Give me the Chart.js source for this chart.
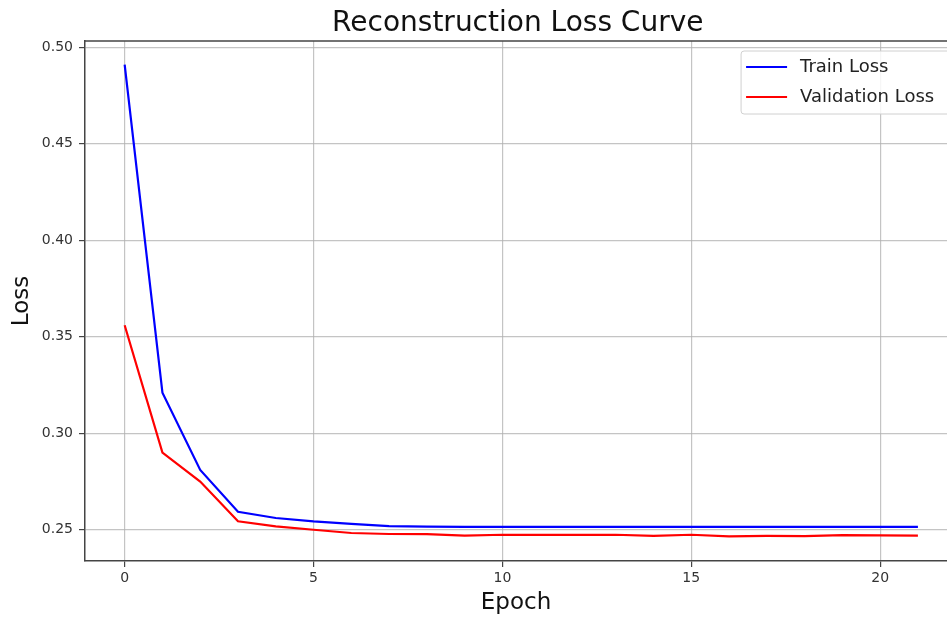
<!DOCTYPE html>
<html>
<head>
<meta charset="utf-8">
<script src="https://cdn.jsdelivr.net/npm/chart.js@4.4.1/dist/chart.umd.min.js"></script>
<style>
  html, body { margin: 0; padding: 0; background: #fff; overflow: hidden; }
  #wrap { width: 947px; height: 619px; }
</style>
</head>
<body>
<div id="wrap"><canvas id="lossChart" width="947" height="619"></canvas></div>
<script>
// Values
const epochs = [0, 1, 2, 3, 4, 5, 6, 7, 8, 9, 10, 11, 12, 13, 14, 15, 16, 17, 18, 19, 20, 21];
const trainLoss = [0.491, 0.321, 0.281, 0.2593, 0.2561, 0.2543, 0.2530, 0.2519, 0.2516, 0.2515, 0.2515,
  0.2515, 0.2515, 0.2515, 0.2515, 0.2515, 0.2515, 0.2515, 0.2515, 0.2515, 0.2515, 0.2515];
const valLoss = [0.356, 0.290, 0.275, 0.2544, 0.2517, 0.2500, 0.2483, 0.2478, 0.2477, 0.2470, 0.2474,
  0.2473, 0.2473, 0.2474, 0.2468, 0.2474, 0.2466, 0.2468, 0.2467, 0.2472, 0.2471, 0.2470];
const xTicks = [0, 5, 10, 15, 20];
const yTicks = [0.25, 0.30, 0.35, 0.40, 0.45, 0.50];

const FONT = "'DejaVu Sans', sans-serif";
const SPINE = '#444';
const GRID = 'rgba(176,176,176,0.75)';

function toPoints(ys) {
  return epochs.map((e, i) => ({ x: e, y: ys[i] }));
}

// matplotlib-like extras: top spine, legend box inside the axes, centred title
const mplExtras = {
  id: 'mplExtras',
  afterLayout(chart) {
    // centre the title over the (partly cut) axes like matplotlib does
    const xs = chart.scales.x;
    if (chart.titleBlock) {
      chart.titleBlock.left = chart.chartArea.left;
      chart.titleBlock.right = xs.getPixelForValue(22.05) - 7;
    }
  },
  afterDraw(chart) {
    const { ctx, chartArea } = chart;
    const xs = chart.scales.x;
    const axRight = xs.getPixelForValue(22.05);

    // top spine
    ctx.save();
    ctx.strokeStyle = SPINE;
    ctx.lineWidth = 1.5;
    ctx.beginPath();
    ctx.moveTo(chartArea.left, chartArea.top);
    ctx.lineTo(chartArea.right, chartArea.top);
    ctx.stroke();

    // legend
    const left = axRight - 216.5, right = axRight - 7.5;
    const top = chartArea.top + 10, bottom = chartArea.top + 73;
    ctx.fillStyle = 'rgba(255,255,255,0.85)';
    ctx.strokeStyle = '#d0d0d0';
    ctx.lineWidth = 1;
    ctx.beginPath();
    ctx.roundRect(left, top, right - left, bottom - top, 3);
    ctx.fill();
    ctx.stroke();

    ctx.font = '18px ' + FONT;
    ctx.textBaseline = 'middle';
    ctx.fillStyle = '#222';
    chart.data.datasets.forEach((ds, i) => {
      const y = top + 16 + i * 30;
      ctx.strokeStyle = ds.borderColor;
      ctx.lineWidth = 2;
      ctx.beginPath();
      ctx.moveTo(left + 5, y);
      ctx.lineTo(left + 46, y);
      ctx.stroke();
      ctx.fillText(ds.label, left + 59, y);
    });
    ctx.restore();
  }
};

new Chart(document.getElementById('lossChart'), {
  type: 'line',
  data: {
    datasets: [
      {
        label: 'Train Loss',
        data: toPoints(trainLoss),
        borderColor: '#0000ff',
        borderWidth: 2.2,
        pointRadius: 0,
        tension: 0
      },
      {
        label: 'Validation Loss',
        data: toPoints(valLoss),
        borderColor: '#ff0000',
        borderWidth: 2.2,
        pointRadius: 0,
        tension: 0
      }
    ]
  },
  options: {
    responsive: false,
    animation: false,
    devicePixelRatio: 1,
    layout: { padding: { left: 0, right: 0, top: 0, bottom: 0 } },
    plugins: {
      legend: { display: false },
      tooltip: { enabled: false },
      title: {
        display: true,
        text: 'Reconstruction Loss Curve',
        color: '#111',
        font: { family: FONT, size: 28, weight: 'normal' },
        padding: { top: 7, bottom: 0.4 }
      }
    },
    scales: {
      x: {
        type: 'linear',
        min: -1.05,
        max: 21.77,
        afterBuildTicks: s => { s.ticks = xTicks.map(v => ({ value: v })); },
        afterFit: s => { s.height = 58; },
        grid: { color: GRID, lineWidth: 1.2, tickColor: SPINE, tickLength: 6 },
        border: { color: SPINE, width: 1.5 },
        ticks: { color: '#333', font: { family: FONT, size: 14 }, padding: 3, maxRotation: 0 },
        title: {
          display: true,
          text: 'Epoch',
          color: '#111',
          font: { family: FONT, size: 23 },
          padding: { top: 0, bottom: 2.5 }
        }
      },
      y: {
        min: 0.2338,
        max: 0.5033,
        afterBuildTicks: s => { s.ticks = yTicks.map(v => ({ value: v })); },
        afterFit: s => { s.width = 85; },
        grid: { color: GRID, lineWidth: 1.2, tickColor: SPINE, tickLength: 6 },
        border: { color: SPINE, width: 1.5 },
        ticks: {
          color: '#333',
          font: { family: FONT, size: 14 },
          padding: 6,
          callback: v => v.toFixed(2)
        },
        title: {
          display: true,
          text: 'Loss',
          color: '#111',
          font: { family: FONT, size: 23 },
          padding: { top: 8, bottom: 0 }
        }
      }
    }
  },
  plugins: [mplExtras]
});
</script>
</body>
</html>
